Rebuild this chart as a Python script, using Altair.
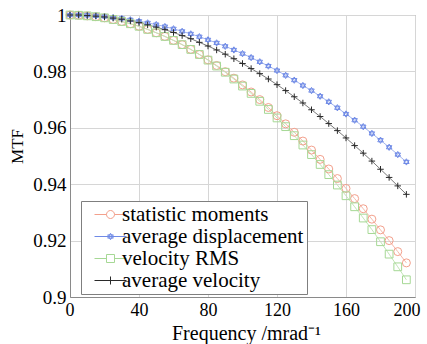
import altair as alt
import pandas as pd

freq = [0, 5, 10, 15, 20, 25, 30, 35, 40, 45, 50, 55, 60, 65, 70, 75, 80, 85, 90, 95,
        100, 105, 110, 115, 120, 125, 130, 135, 140, 145, 150, 155, 160, 165, 170, 175, 180, 185, 190, 195]

statistic_moments = [1.0000, 0.9999, 0.9997, 0.9994, 0.9990, 0.9984, 0.9977, 0.9969, 0.9960, 0.9949,
                     0.9937, 0.9924, 0.9910, 0.9895, 0.9878, 0.9860, 0.9841, 0.9821, 0.9799, 0.9776,
                     0.9752, 0.9727, 0.9700, 0.9672, 0.9643, 0.9614, 0.9584, 0.9553, 0.9521, 0.9488,
                     0.9454, 0.9420, 0.9385, 0.9349, 0.9313, 0.9276, 0.9238, 0.9200, 0.9161, 0.9121]

average_displacement = [1.0000, 1.0000, 0.9999, 0.9997, 0.9995, 0.9991, 0.9988, 0.9983, 0.9978, 0.9972,
                        0.9966, 0.9959, 0.9951, 0.9942, 0.9933, 0.9923, 0.9912, 0.9901, 0.9889, 0.9876,
                        0.9863, 0.9849, 0.9834, 0.9819, 0.9803, 0.9786, 0.9769, 0.9750, 0.9732, 0.9712,
                        0.9692, 0.9671, 0.9649, 0.9627, 0.9604, 0.9580, 0.9556, 0.9531, 0.9505, 0.9479]

velocity_rms = [1.0000, 0.9999, 0.9997, 0.9994, 0.9990, 0.9984, 0.9977, 0.9969, 0.9960, 0.9949,
                0.9937, 0.9924, 0.9910, 0.9895, 0.9878, 0.9860, 0.9840, 0.9819, 0.9797, 0.9773,
                0.9748, 0.9722, 0.9694, 0.9665, 0.9635, 0.9604, 0.9572, 0.9539, 0.9505, 0.9470,
                0.9434, 0.9397, 0.9359, 0.9320, 0.9280, 0.9239, 0.9196, 0.9152, 0.9107, 0.9061]

average_velocity = [1.0000, 1.0000, 0.9998, 0.9996, 0.9993, 0.9989, 0.9985, 0.9979, 0.9973, 0.9965,
                    0.9957, 0.9948, 0.9938, 0.9927, 0.9916, 0.9903, 0.9890, 0.9876, 0.9861, 0.9845,
                    0.9828, 0.9810, 0.9792, 0.9773, 0.9753, 0.9732, 0.9710, 0.9688, 0.9664, 0.9640,
                    0.9615, 0.9590, 0.9564, 0.9537, 0.9510, 0.9482, 0.9453, 0.9424, 0.9394, 0.9364]

names = ["statistic moments", "average displacement", "velocity RMS", "average velocity"]
series_values = [statistic_moments, average_displacement, velocity_rms, average_velocity]
marker_colors = ["#f3a08c", "#6f8ae6", "#a6d895", "#2a2a2a"]
line_colors = ["#f6b9aa", "#a3b5ef", "#c2e5b6", "#7a7a7a"]
plot_shapes = ["circle", "M0,-1L0.866,0.5L-0.866,0.5ZM0,1L0.866,-0.5L-0.866,-0.5Z", "square", "M-1,0H1M0,-1V1"]
plot_sizes = [64, 40, 60, 42]
legend_shapes = [
    "M-4,0H-1M1,0H4M1,0A1,1 0 1,1 -1,0A1,1 0 1,1 1,0",
    "M-4,0H4M0,-0.8L0.7,0.4L-0.7,0.4ZM0,0.8L0.7,-0.4L-0.7,-0.4Z",
    "M-4,0H-1M1,0H4M-1,-1H1V1H-1Z",
    "M-4,0H4M0,-1V1",
]
x_ticks = [0, 40, 80, 120, 160, 200]
y_ticks = [0.9, 0.92, 0.94, 0.96, 0.98, 1.0]

rows = []
for name, vals in zip(names, series_values):
    for f, v in zip(freq, vals):
        rows.append({"f": f, "mtf": v, "series": name})
df = pd.DataFrame(rows)

FONT = "'Liberation Serif', 'Times New Roman', Times, serif"

x_enc = alt.X("f:Q", scale=alt.Scale(domain=[0, 200], nice=False),
              axis=alt.Axis(values=x_ticks, title="Frequency /mrad⁻¹", labelFlush=True,
                            labelFlushOffset=5, labelOverlap=False, tickSize=0, labelPadding=4,
                            labelFontSize=18,
                            titleX=176, titleY=42, titleAlign="center", titleBaseline="alphabetic",
                            titleFontSize=20))
y_enc = alt.Y("mtf:Q", scale=alt.Scale(domain=[0.9, 1.0], nice=False, zero=False),
              axis=alt.Axis(values=y_ticks, format=".2~f", title="MTF", labelFlush=False,
                            labelOverlap=False, tickSize=0, labelPadding=4,
                            titleX=-53, titleY=131, titleAlign="center", titleBaseline="middle",
                            titleFontSize=17))

base = alt.Chart(df)
layers = []
for name, lc in zip(names, line_colors):
    layers.append(base.transform_filter(alt.datum.series == name)
                  .mark_line(color=lc, strokeWidth=1)
                  .encode(x=x_enc, y=y_enc))
for name, mc, shp, sz in zip(names, marker_colors, plot_shapes, plot_sizes):
    layers.append(base.transform_filter(alt.datum.series == name)
                  .mark_point(shape=shp, filled=False, color=mc, size=sz, strokeWidth=1, opacity=1)
                  .encode(x=x_enc, y=y_enc))

legend_layer = base.transform_filter(alt.datum.f < 0).mark_point(filled=False, size=64, strokeWidth=1, opacity=1).encode(
    x=x_enc, y=y_enc,
    color=alt.Color("series:N", scale=alt.Scale(domain=names, range=marker_colors),
                    legend=alt.Legend(title=None, orient="none", legendX=11, legendY=186,
                                      symbolOffset=16, labelOffset=1, padding=3, rowPadding=0,
                                      symbolSize=64, labelFontSize=21, labelFont=FONT, labelLimit=400,
                                      strokeColor="#7f7f7f", fillColor="white",
                                      labelColor="black", symbolStrokeWidth=1)),
    shape=alt.Shape("series:N", scale=alt.Scale(domain=names, range=legend_shapes)),
)
layers.append(legend_layer)

chart = alt.layer(*layers).properties(
    width=345, height=282,
    autosize=alt.AutoSizeParams(type="none"),
    padding={"left": 70, "top": 15, "right": 12, "bottom": 47},
).configure_view(stroke="#8a8a8a", strokeWidth=1).configure_axis(
    labelFont=FONT, titleFont=FONT, labelFontSize=19, labelColor="black", titleColor="black",
    titleFontWeight="normal", gridColor="#d6d6d6", gridWidth=1, domainColor="#8a8a8a",
)

chart.save("out.html", embed_options={"renderer": "svg", "actions": False})
